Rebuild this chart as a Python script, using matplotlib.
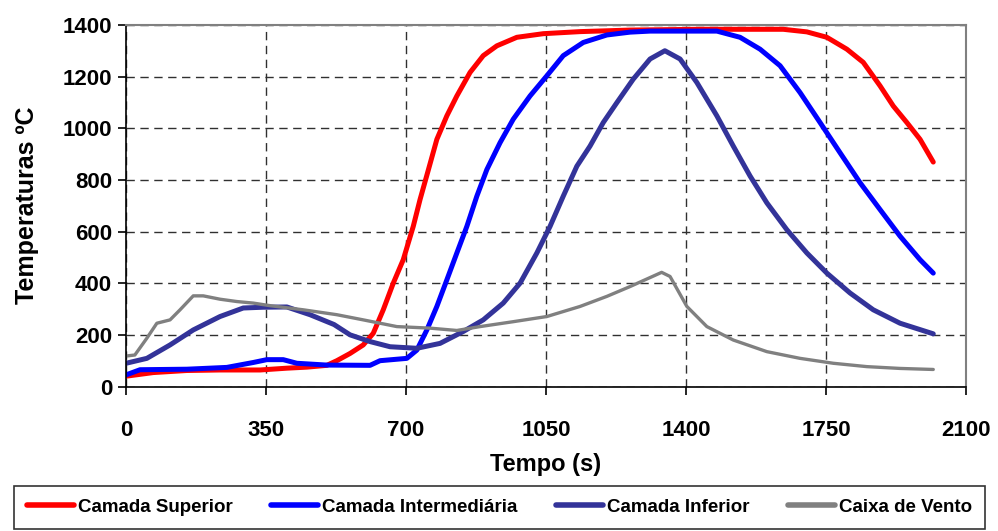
import matplotlib
matplotlib.use("Agg")
import matplotlib.pyplot as plt

plt.rcParams['font.family'] = ['Liberation Sans', 'DejaVu Sans']

# Temperature readings per layer (time in s, temperature in °C)
sup_t = [0, 10, 68, 152, 235, 335, 402, 452, 502, 527, 560, 593, 618, 643, 668, 693, 718,
         735, 756, 777, 802, 827, 860, 893, 927, 977, 1043, 1135, 1260, 1435, 1643, 1702,
         1752, 1802, 1843, 1885, 1918, 1952, 1985, 2018]
sup_y = [40, 42, 54, 62, 64, 64, 71, 75, 82, 100, 128, 161, 206, 297, 400, 491, 620,
         724, 840, 957, 1048, 1125, 1216, 1281, 1319, 1352, 1366, 1374, 1380, 1383, 1383, 1373,
         1352, 1306, 1255, 1164, 1086, 1022, 957, 869]

int_t = [0, 35, 152, 252, 318, 352, 393, 427, 502, 610, 635, 702, 727, 752, 777, 802, 827,
         852, 877, 902, 935, 968, 1010, 1052, 1093, 1143, 1202, 1260, 1310, 1477, 1535, 1585,
         1635, 1685, 1735, 1785, 1835, 1885, 1935, 1985, 2018]
int_y = [45, 65, 67, 74, 93, 104, 104, 90, 83, 82, 100, 109, 141, 219, 310, 413, 517,
         620, 737, 840, 944, 1035, 1125, 1203, 1281, 1332, 1361, 1372, 1376, 1376, 1352, 1306,
         1242, 1138, 1022, 905, 789, 685, 582, 491, 439]

inf_t = [0, 52, 110, 168, 235, 293, 343, 402, 460, 520, 560, 610, 660, 727, 785, 843, 893,
         943, 985, 1027, 1060, 1093, 1127, 1160, 1193, 1227, 1268, 1310, 1347, 1385, 1427,
         1477, 1518, 1560, 1602, 1652, 1702, 1752, 1810, 1868, 1935, 2018]
inf_y = [90, 109, 161, 219, 271, 304, 307, 308, 278, 240, 200, 174, 154, 148, 167, 213, 258,
         323, 400, 517, 620, 737, 853, 931, 1022, 1099, 1190, 1268, 1300, 1268, 1177,
         1048, 931, 815, 711, 607, 517, 439, 362, 297, 245, 204]

cx_t = [0, 22, 52, 77, 110, 135, 168, 193, 235, 277, 318, 360, 443, 527, 593, 677, 760,
        827, 885, 968, 1052, 1135, 1202, 1260, 1339, 1360, 1402, 1452, 1518, 1602, 1685,
        1768, 1852, 1935, 2018]
cx_y = [118, 122, 187, 245, 258, 297, 351, 351, 338, 329, 323, 313, 297, 278, 258, 232, 226,
        217, 232, 251, 271, 310, 349, 387, 442, 426, 310, 232, 180, 135, 109,
        90, 77, 70, 66]

x_ticks = [0, 350, 700, 1050, 1400, 1750, 2100]
y_ticks = [0, 200, 400, 600, 800, 1000, 1200, 1400]

fig = plt.figure(figsize=(9.98, 5.31), dpi=100)
ax = fig.add_axes([0.1263, 0.2721, 0.8417, 0.681])

ax.plot(sup_t, sup_y, color='#ff0000', lw=3.6, label='Camada Superior', solid_capstyle='round')
ax.plot(int_t, int_y, color='#0000ff', lw=3.6, label='Camada Intermediária', solid_capstyle='round')
ax.plot(inf_t, inf_y, color='#333399', lw=3.6, label='Camada Inferior', solid_capstyle='round')
ax.plot(cx_t, cx_y, color='#808080', lw=2.4, label='Caixa de Vento', solid_capstyle='round')

ax.set_xlim(0, 2100)
ax.set_ylim(0, 1400)
ax.set_xticks(x_ticks)
ax.set_yticks(y_ticks)
ax.grid(True, color='#303030', lw=1.0, linestyle=(0, (6, 4)))
ax.set_axisbelow(True)

for side in ('top', 'right'):
    ax.spines[side].set_color('#808080')
    ax.spines[side].set_linewidth(1.5)
for side in ('left', 'bottom'):
    ax.spines[side].set_color('black')
    ax.spines[side].set_linewidth(1.2)

ax.tick_params(direction='out', length=6, width=1.2, labelsize=16)
ax.tick_params(axis='x', pad=18)
ax.tick_params(axis='y', pad=4)
for lab in ax.get_xticklabels() + ax.get_yticklabels():
    lab.set_fontweight('bold')

ax.set_xlabel('Tempo (s)', fontsize=17, fontweight='bold', labelpad=9)
ax.set_ylabel('Temperaturas ºC', fontsize=18, fontweight='bold', labelpad=17)

leg = fig.legend(loc='lower left', bbox_to_anchor=(0.014, 0.004, 0.973, 0.08), mode='expand',
                 ncol=4, frameon=True, fancybox=False, edgecolor='black', handlelength=2.5,
                 handletextpad=0.2, borderaxespad=0, borderpad=0.7,
                 prop={'weight': 'bold', 'size': 13.5})
leg.get_frame().set_linewidth(1.2)
for line in leg.get_lines():
    line.set_linewidth(4)

fig.savefig('out.png', dpi=100)
